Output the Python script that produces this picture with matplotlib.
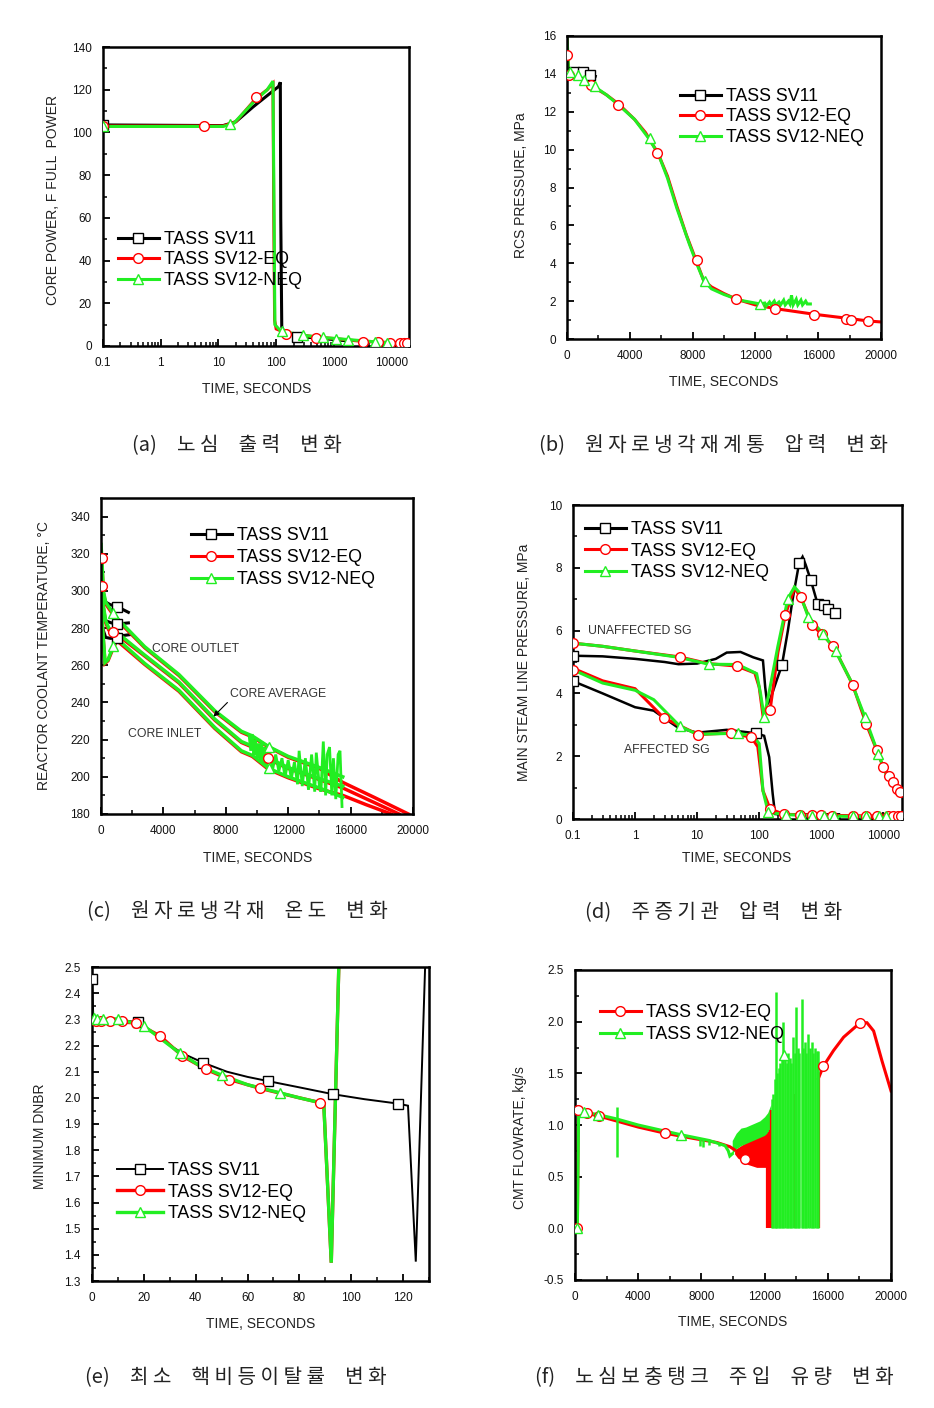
import numpy as np
import matplotlib
matplotlib.use('Agg')
import matplotlib.pyplot as plt
from matplotlib.lines import Line2D
from matplotlib.ticker import MultipleLocator, FixedLocator, LogLocator, NullFormatter, FormatStrFormatter

plt.rcParams['font.family'] = ['Liberation Sans', 'DejaVu Sans']

W, H = 934, 1408
BLACK, RED, GREEN = '#000000', '#ff0000', '#22ee22'
LBL = ['TASS SV11', 'TASS SV12-EQ', 'TASS SV12-NEQ']

# ---------------- (a) core power, log time
a_sv11_t = [0.1, 12, 20, 40, 80, 110, 118, 120, 125, 135, 229, 500, 1000, 1900]
a_sv11_p = [103.5, 103.2, 105, 112, 118.5, 121.5, 123.5, 60, 9, 7, 4.4, 3.8, 3.0, 2.3]
a_sv11_mk_t = [0.1, 229]
a_sv11_mk_p = [103.5, 4.4]
a_eq_t = [0.1, 12, 20, 45, 70, 88, 91, 94, 100, 150, 300, 500, 1000, 3000, 6000, 10000, 20000]
a_eq_p = [103, 103, 105, 116, 120, 123, 60, 12, 8, 6, 5, 4.2, 3.5, 2.2, 1.8, 1.6, 1.4]
a_eq_mk_t = [0.1, 5.6, 45, 148, 490, 3200, 5700, 9300, 14000, 16500, 18500]
a_eq_mk_p = [103, 102.8, 116.5, 5.5, 3.9, 1.9, 1.7, 1.5, 1.4, 1.4, 1.4]
a_neq_t = [0.1, 12, 18, 40, 70, 88, 92, 95, 120, 300, 600, 1100, 1800, 5000, 8000, 12000]
a_neq_p = [102.8, 102.8, 104, 114, 120, 124, 60, 10, 7, 5, 4, 3.5, 3, 2, 1.6, 1.4]
a_neq_mk_t = [0.1, 16, 125, 296, 660, 1100, 1780, 5100, 8200]
a_neq_mk_p = [102.8, 104, 7, 5, 4, 3.2, 3, 2, 1.6]

# ---------------- (b) RCS pressure
b_sv11_t = [0, 50, 120, 300, 600, 1000, 1490, 1800]
b_sv11_p = [15.2, 14.6, 14.15, 14.1, 14.1, 14.1, 13.95, 13.87]
b_sv11_mk_t = [470, 1000, 1490]
b_sv11_mk_p = [14.1, 14.1, 13.95]
b_eq_t = [0, 30, 100, 300, 800, 1500, 2500, 3300, 4300, 5000, 5800, 6400, 7000, 7600, 8200, 8700,
          9200, 10000, 10800, 12000, 13300, 15800, 17800, 19200, 20000]
b_eq_p = [15.8, 15.0, 13.9, 13.9, 13.8, 13.4, 12.9, 12.4, 11.6, 10.9, 9.8, 8.6, 7.0, 5.5, 4.2, 3.1,
          2.75, 2.4, 2.1, 1.8, 1.6, 1.3, 1.1, 0.95, 0.9]
b_eq_mk_t = [0, 100, 1500, 3230, 5740, 8250, 10770, 13230, 15740, 17800, 18100, 19200]
b_eq_mk_p = [15.0, 13.96, 13.4, 12.35, 9.8, 4.17, 2.1, 1.57, 1.27, 1.04, 1.0, 0.95]
b_neq_t = [0, 40, 100, 300, 600, 1100, 1800, 2500, 3300, 4300, 5200, 5800, 6400, 7000, 7800, 8300,
           8700, 9200, 10000, 11000, 12300]
b_neq_p = [15.9, 15.3, 14.1, 14.05, 14.0, 13.7, 13.3, 12.9, 12.35, 11.6, 10.6, 9.8, 8.5, 6.9, 5.0, 3.9,
           3.1, 2.65, 2.35, 2.05, 1.85]
b_neq_mk_t = [210, 680, 1060, 1770, 5260, 8770, 12300]
b_neq_mk_p = [14.1, 13.93, 13.66, 13.35, 10.64, 3.06, 1.83]
b_osc_t = [12300, 12600, 12700, 12900, 13000, 13200, 13300, 13500, 13600, 13800, 13900, 14100, 14200,
           14300, 14400, 14600, 14700, 14900, 15000, 15200, 15300, 15500]
b_osc_p = [1.85, 1.9, 1.75, 1.95, 1.8, 2.0, 1.8, 1.95, 1.8, 2.05, 1.8, 2.0, 1.85, 2.3, 1.8, 2.1, 1.8,
           2.05, 1.8, 2.0, 1.85, 1.85]

# ---------------- (c) coolant temperatures (outlet / average / inlet)
c_sv11_out_t = [0, 100, 300, 577, 1006, 1400, 1755]
c_sv11_out_T = [305, 298, 294, 292.7, 291.5, 290, 288.5]
c_sv11_avg_t = [0, 100, 300, 600, 1006, 1400, 1755]
c_sv11_avg_T = [298, 288, 284, 283, 282, 282.5, 282.8]
c_sv11_in_t = [0, 100, 300, 600, 1006, 1400, 1860]
c_sv11_in_T = [292, 280, 275, 274.5, 274.7, 276, 276.5]
c_sv11_mk_t = [1006, 1006, 1006]
c_sv11_mk_T = [291.5, 282, 274.7]

c_eq_out_t = [0, 50, 150, 300, 470, 800, 1113, 2800, 5000, 7300, 9000, 9700, 10740, 12000, 14000, 15500, 17500, 19700]
c_eq_out_T = [322, 316, 299, 293, 291, 287, 283.8, 269.5, 254.5, 235, 224, 221.5, 216, 210.5, 204.5, 197, 189, 180]
c_eq_avg_t = [0, 40, 85, 150, 300, 500, 770, 1113, 2800, 5000, 7300, 9000, 9700, 10740, 12000, 14000, 15500, 17300, 19100]
c_eq_avg_T = [317.9, 309, 302.6, 291, 283, 279, 277.8, 276, 265, 250.5, 230.5, 218.5, 216, 209.5, 204.5, 198.5, 194, 187, 180]
c_eq_in_t = [0, 40, 120, 257, 450, 790, 1006, 1200, 2800, 5000, 7300, 9000, 9700, 10740, 12000, 14000, 15500, 17000, 18600]
c_eq_in_T = [298, 289, 277, 261, 262.5, 269.5, 273, 272, 260.5, 246, 226, 213.5, 211, 204, 199.5, 193.5, 190, 185, 180]
c_eq_mk_t = [85, 85, 770, 10700]
c_eq_mk_T = [317.9, 302.6, 278, 210]

c_neq_out_t = [0, 50, 150, 300, 470, 800, 1113, 2800, 5000, 7300, 9000, 9700, 10740, 12000, 14000, 15500]
c_neq_out_T = [325, 318, 300, 294, 291.8, 288, 284.6, 270, 255, 235.5, 224.5, 222, 216.3, 211, 205, 200]
c_neq_avg_t = [0, 40, 85, 150, 300, 500, 800, 1113, 2800, 5000, 7300, 9000, 9700, 10740, 12000, 14000, 15500]
c_neq_avg_T = [318, 310, 303, 292, 284, 280, 278, 277, 265.5, 251, 231, 219, 216.5, 210, 205, 199, 195]
c_neq_in_t = [0, 40, 120, 257, 450, 790, 1006, 1200, 2800, 5000, 7300, 9000, 9700, 10740, 12000, 14000, 15500]
c_neq_in_T = [300, 290, 278, 261.5, 263, 270.2, 273.8, 273, 261, 246.5, 226.5, 214, 211.5, 204.6, 200, 194, 189]
c_neq_mk_t = [800, 800, 10740, 10740]
c_neq_mk_T = [288, 270.2, 216.3, 204.6]
c_osc_t = [9500, 9600, 9700, 9800, 9900, 10000, 10100, 10200, 10300, 10400, 10500, 10600, 10800, 11000,
           11200, 11400, 11600, 11800, 12000, 12200, 12400, 12600, 12700, 12900, 13100, 13300, 13500,
           13700, 13800, 14000, 14100, 14250, 14400, 14500, 14650, 14800, 14900, 15050, 15200, 15320, 15450]
c_osc_T = [222, 214, 223, 212, 220, 210, 218, 208, 219, 207, 216, 206, 214, 204, 212, 203, 210, 200,
           209, 199, 208, 196, 214, 195, 210, 193, 212, 192, 213, 195, 192, 219, 190, 212, 216, 190,
           210, 188, 212, 214, 184]

# ---------------- (d) main steam line pressure, log time
d_sv11_u_t = [0.1, 0.3, 1, 3, 5, 10, 20, 30, 50, 80, 115, 125, 135, 150, 190, 232, 290, 344, 441,
              500, 560, 680, 870, 1100, 1300, 1650]
d_sv11_u_p = [5.2, 5.18, 5.1, 5.0, 4.93, 4.95, 5.1, 5.3, 5.32, 5.15, 5.05, 4.2, 3.65, 3.8, 4.4, 4.89,
              6.0, 6.97, 8.16, 8.35, 8.1, 7.6, 6.86, 6.8, 6.7, 6.56]
d_sv11_a_t = [0.1, 0.3, 1, 2, 5, 10, 30, 90, 120, 145, 165, 180, 200, 500, 1930]
d_sv11_a_p = [4.39, 4.0, 3.56, 3.45, 2.9, 2.75, 2.84, 2.73, 2.65, 1.97, 0.8, 0.16, 0.15, 0.15, 0.15]
d_sv11_mk_t = [0.1, 0.1, 90, 232, 441, 680, 870, 1100, 1300, 1650]
d_sv11_mk_p = [5.2, 4.39, 2.73, 4.89, 8.16, 7.6, 6.86, 6.8, 6.7, 6.56]

d_eq_u_t = [0.1, 0.3, 1, 5.3, 15, 43.5, 85, 100, 115, 150, 200, 263, 370, 468, 720, 1030, 1570, 3200,
            5300, 7800, 10000, 12300, 14500, 16700, 18000, 20000]
d_eq_u_p = [5.6, 5.5, 5.35, 5.16, 4.95, 4.87, 4.65, 4.2, 3.3, 3.48, 5.3, 6.5, 7.35, 7.07, 6.17, 5.88,
            5.5, 4.28, 3.03, 2.2, 1.65, 1.38, 1.17, 0.96, 0.85, 0.8]
d_eq_a_t = [0.1, 0.3, 1, 2.9, 10.3, 35, 75, 95, 115, 150, 250, 1000, 5000, 20000]
d_eq_a_p = [4.8, 4.4, 4.15, 3.22, 2.69, 2.74, 2.6, 2.3, 0.9, 0.32, 0.15, 0.12, 0.1, 0.1]
d_eq_mk_t = [0.1, 5.3, 43.5, 150, 263, 468, 720, 1030, 1570, 3200, 5300, 7800, 10000, 12300, 14500,
             16700, 18500, 0.1, 2.9, 10.3, 35, 75, 150, 250, 460, 700, 1000, 1500, 3200, 5300, 8000,
             12000, 14500, 17000, 19500]
d_eq_mk_p = [5.6, 5.16, 4.87, 3.48, 6.5, 7.07, 6.17, 5.88, 5.5, 4.28, 3.03, 2.2, 1.65, 1.38, 1.17,
             0.96, 0.85, 4.73, 3.22, 2.69, 2.74, 2.6, 0.32, 0.15, 0.13, 0.12, 0.12, 0.11, 0.1, 0.1, 0.1,
             0.1, 0.1, 0.1, 0.1]
d_neq_u_t = [0.1, 0.3, 1, 5, 15.4, 45, 91, 105, 120, 150, 200, 290, 370, 450, 615, 1070, 1700, 3000,
             5070, 8300, 11000]
d_neq_u_p = [5.6, 5.5, 5.35, 5.15, 4.93, 4.92, 4.63, 4.0, 3.24, 4.2, 5.5, 7.02, 7.39, 7.2, 6.44, 5.9,
             5.35, 4.4, 3.24, 2.07, 1.44]
d_neq_a_t = [0.1, 0.3, 1, 2, 5.3, 10, 45, 80, 100, 115, 140, 270, 500, 1000, 3300, 11000]
d_neq_a_p = [4.75, 4.33, 4.1, 3.8, 2.95, 2.7, 2.73, 2.65, 2.4, 0.9, 0.21, 0.14, 0.12, 0.1, 0.08, 0.08]
d_neq_mk_t = [15.4, 120, 290, 615, 1070, 1700, 5070, 8300, 5.3, 45, 140, 270, 480, 700, 1100, 1600,
              3300, 5300, 8500, 11000]
d_neq_mk_p = [4.93, 3.24, 7.02, 6.44, 5.9, 5.35, 3.24, 2.07, 2.95, 2.73, 0.21, 0.14, 0.12, 0.11, 0.1,
              0.1, 0.08, 0.08, 0.08, 0.08]

# ---------------- (e) minimum DNBR
e_sv11_t = [0, 0.5, 5, 10, 17.8, 25, 30, 36, 42.7, 52, 60, 67.9, 80, 92.9, 105, 118, 121.9, 124.9, 128.5]
e_sv11_v = [2.455, 2.31, 2.30, 2.30, 2.288, 2.24, 2.2, 2.165, 2.135, 2.1, 2.08, 2.064, 2.04, 2.014,
            1.995, 1.978, 1.97, 1.374, 2.5]
e_sv11_mk_t = [0, 17.8, 42.7, 67.9, 92.9, 118]
e_sv11_mk_v = [2.455, 2.288, 2.135, 2.064, 2.014, 1.978]
e_eq_t = [0, 2, 7, 11, 16.9, 26.2, 34.8, 44, 53, 64.9, 80, 87.9, 89.4, 92.3, 95.2]
e_eq_v = [2.32, 2.295, 2.295, 2.29, 2.286, 2.237, 2.16, 2.109, 2.07, 2.036, 2.0, 1.982, 1.978, 1.37, 2.5]
e_eq_mk_t = [1.7, 3.6, 6.8, 11.4, 16.9, 26.2, 34.8, 44, 53, 64.9, 87.9]
e_eq_mk_v = [2.295, 2.295, 2.295, 2.292, 2.286, 2.237, 2.16, 2.109, 2.07, 2.036, 1.982]
e_neq_t = [0, 0.5, 2, 4, 10, 20, 34, 42, 50, 60, 72.6, 80, 89.4, 92.3, 95.2]
e_neq_v = [2.33, 2.31, 2.30, 2.30, 2.302, 2.275, 2.17, 2.12, 2.087, 2.05, 2.019, 2.0, 1.978, 1.37, 2.5]
e_neq_mk_t = [0.6, 1.9, 4.3, 10, 20, 34, 50, 72.6]
e_neq_mk_v = [2.305, 2.30, 2.30, 2.302, 2.275, 2.17, 2.087, 2.019]

# ---------------- (f) CMT flowrate
f_eq_t = [0, 150, 210, 740, 1545, 2600, 4000, 5714, 7500, 9000, 9800, 10100]
f_eq_v = [0.0, 0.0, 1.146, 1.114, 1.085, 1.04, 0.98, 0.92, 0.87, 0.83, 0.79, 0.76]
f_eq_band_t = [10100, 10300, 10500, 10700, 10900, 11100, 11300, 11500, 11700, 11900, 12100, 12300]
f_eq_band_hi = [0.76, 0.78, 0.80, 0.82, 0.84, 0.85, 0.87, 0.88, 0.90, 0.91, 0.93, 0.95]
f_eq_band_lo = [0.72, 0.68, 0.66, 0.64, 0.62, 0.61, 0.60, 0.59, 0.59, 0.59, 0.59, 0.59]
f_eq_drop_t = [12180, 12260, 12340, 12400, 13950, 15450]
f_eq_drop_hi = [0.9, 0.93, 0.95, 1.15, 1.3, 1.5]
f_eq_tail_t = [15400, 15725, 16360, 17000, 18050, 18480, 18900, 19430, 20000]
f_eq_tail_v = [1.45, 1.57, 1.72, 1.85, 1.99, 1.99, 1.91, 1.62, 1.33]
f_eq_mk_t = [106, 210, 740, 1545, 5714, 10750, 15725, 18050]
f_eq_mk_v = [0.0, 1.146, 1.114, 1.085, 0.92, 0.674, 1.57, 1.99]

f_neq_t = [0, 150, 230, 590, 1480, 2600, 4000, 6730, 8500, 9500, 9700, 9800, 9950]
f_neq_v = [0.0, 0.0, 1.15, 1.125, 1.10, 1.06, 1.0, 0.905, 0.85, 0.80, 0.75, 0.70, 0.72]
f_neq_dip_t = [2640, 7900, 8100, 8500, 9100]
f_neq_dip_lo = [0.69, 0.80, 0.79, 0.81, 0.80]
f_neq_dip_hi = [1.17, 0.86, 0.86, 0.85, 0.82]
f_neq_band_t = [9950, 10200, 10500, 10800, 11100, 11400, 11700, 12000, 12200, 12400]
f_neq_band_lo = [0.72, 0.77, 0.80, 0.82, 0.84, 0.86, 0.88, 0.90, 0.93, 0.95]
f_neq_band_hi = [0.85, 0.92, 0.97, 0.98, 1.00, 1.02, 1.04, 1.08, 1.12, 1.20]
f_neq_sp_t = [12450, 12550, 12650, 12720, 12800, 12900, 13000, 13100, 13190, 13300, 13400, 13500, 13600,
              13700, 13800, 13900, 13990, 14100, 14200, 14350, 14450, 14550, 14650, 14770, 14850, 14980,
              15080, 15200, 15300, 15400]
f_neq_sp_v = [1.25, 1.3, 1.45, 2.29, 1.5, 1.55, 1.6, 1.65, 2.0, 1.68, 1.6, 1.7, 1.65, 1.6, 1.85, 1.7,
              2.14, 1.75, 1.7, 2.22, 1.75, 1.8, 1.7, 1.88, 1.75, 1.8, 1.7, 1.75, 1.72, 1.72]
f_neq_mk_t = [100, 590, 1480, 6730, 13230]
f_neq_mk_v = [0.0, 1.125, 1.10, 0.905, 1.68]

captions = [('(a)', ['노심', '출력', '변화']),
            ('(b)', ['원자로냉각재계통', '압력', '변화']),
            ('(c)', ['원자로냉각재', '온도', '변화']),
            ('(d)', ['주증기관', '압력', '변화']),
            ('(e)', ['최소', '핵비등이탈률', '변화']),
            ('(f)', ['노심보충탱크', '주입', '유량', '변화'])]


def rect(l, t, r, b):
    return [l / W, 1 - b / H, (r - l) / W, (b - t) / H]


def style(ax, xlabel, ylabel, xlab, ylab):
    for s in ax.spines.values():
        s.set_linewidth(1.8)
    ax.tick_params(which='both', direction='in', top=False, right=False, labelsize=8.5,
                   labelcolor='#111')
    ax.tick_params(which='major', length=5, width=1.3, pad=8)
    ax.tick_params(which='minor', length=3, width=1.1)
    ax.set_xlabel(xlabel, fontsize=10, color='#222')
    ax.set_ylabel(ylabel, fontsize=10, color='#222')
    ax.xaxis.set_label_coords(*xlab)
    ax.yaxis.set_label_coords(*ylab)
    ax.xaxis.label.set_va('center')
    ax.yaxis.label.set_va('center')


def logx(ax):
    ax.set_xscale('log')
    ax.set_xlim(0.1, 20000)
    ax.xaxis.set_major_locator(FixedLocator([0.1, 1, 10, 100, 1000, 10000]))
    ax.set_xticklabels(['0.1', '1', '10', '100', '1000', '10000'])
    ax.xaxis.set_minor_locator(LogLocator(base=10, subs=np.arange(2, 10)))
    ax.xaxis.set_minor_formatter(NullFormatter())


def line(ax, t, v, c, lw=2.2):
    ax.plot(t, v, color=c, lw=lw, solid_joinstyle='miter')


def marks(ax, t, v, c, m):
    ax.plot(t, v, ls='none', marker=m, ms=7, mfc='white', mec=c, mew=1, zorder=3)


def legend(ax, which, anchor, lws, spacing=0.24, hl=2.3):
    cols = [BLACK, RED, GREEN]
    mks = ['s', 'o', '^']
    hs = [Line2D([], [], color=cols[i], lw=lws[k], marker=mks[i], ms=7, mfc='white', mec=cols[i], mew=1)
          for k, i in enumerate(which)]
    ax.legend(hs, [LBL[i] for i in which], loc='upper left', bbox_to_anchor=anchor, frameon=False,
              fontsize=12.8, handlelength=hl, handletextpad=0.3, labelspacing=spacing,
              borderpad=0, borderaxespad=0)


fig = plt.figure(figsize=(W / 100, H / 100), dpi=100)

# (a)
ax = fig.add_axes(rect(103, 47, 409, 346))
line(ax, a_sv11_t, a_sv11_p, BLACK); marks(ax, a_sv11_mk_t, a_sv11_mk_p, BLACK, 's')
line(ax, a_eq_t, a_eq_p, RED); marks(ax, a_eq_mk_t, a_eq_mk_p, RED, 'o')
line(ax, a_neq_t, a_neq_p, GREEN); marks(ax, a_neq_mk_t, a_neq_mk_p, GREEN, '^')
logx(ax)
ax.set_ylim(0, 140)
ax.yaxis.set_major_locator(MultipleLocator(20))
ax.yaxis.set_minor_locator(MultipleLocator(10))
style(ax, 'TIME, SECONDS', 'CORE POWER, F FULL  POWER', (0.503, -0.144), (-0.163, 0.488))
legend(ax, [0, 1, 2], (0.049, 0.385), [2.2, 2.2, 2.2], spacing=0.2)

# (b)
ax = fig.add_axes(rect(567, 36, 881, 339))
line(ax, b_sv11_t, b_sv11_p, BLACK); marks(ax, b_sv11_mk_t, b_sv11_mk_p, BLACK, 's')
line(ax, b_eq_t, b_eq_p, RED); marks(ax, b_eq_mk_t, b_eq_mk_p, RED, 'o')
line(ax, b_neq_t, b_neq_p, GREEN); line(ax, b_osc_t, b_osc_p, GREEN)
marks(ax, b_neq_mk_t, b_neq_mk_p, GREEN, '^')
ax.set_xlim(0, 20000)
ax.set_ylim(0, 16)
ax.xaxis.set_major_locator(MultipleLocator(4000))
ax.xaxis.set_minor_locator(MultipleLocator(2000))
ax.yaxis.set_major_locator(MultipleLocator(2))
ax.yaxis.set_minor_locator(MultipleLocator(1))
style(ax, 'TIME, SECONDS', 'RCS PRESSURE, MPa', (0.5, -0.142), (-0.146, 0.508))
legend(ax, [0, 1, 2], (0.36, 0.829), [2.2, 2.2, 2.2], spacing=0.2)

# (c)
ax = fig.add_axes(rect(101, 498, 413, 814))
for t, v in [(c_sv11_out_t, c_sv11_out_T), (c_sv11_avg_t, c_sv11_avg_T), (c_sv11_in_t, c_sv11_in_T)]:
    line(ax, t, v, BLACK)
marks(ax, c_sv11_mk_t, c_sv11_mk_T, BLACK, 's')
for t, v in [(c_eq_out_t, c_eq_out_T), (c_eq_avg_t, c_eq_avg_T), (c_eq_in_t, c_eq_in_T)]:
    line(ax, t, v, RED, 2.5)
marks(ax, c_eq_mk_t, c_eq_mk_T, RED, 'o')
for t, v in [(c_neq_out_t, c_neq_out_T), (c_neq_avg_t, c_neq_avg_T), (c_neq_in_t, c_neq_in_T)]:
    line(ax, t, v, GREEN, 2.5)
line(ax, c_osc_t, c_osc_T, GREEN, 2.0)
marks(ax, c_neq_mk_t, c_neq_mk_T, GREEN, '^')
ax.set_xlim(0, 20000)
ax.set_ylim(180, 350)
ax.xaxis.set_major_locator(MultipleLocator(4000))
ax.xaxis.set_minor_locator(MultipleLocator(2000))
ax.yaxis.set_major_locator(FixedLocator(np.arange(180, 341, 20)))
ax.yaxis.set_minor_locator(FixedLocator(np.arange(190, 350, 20)))
ax.text(3300, 269, 'CORE OUTLET', fontsize=8.8, color='#333', va='center')
ax.text(1752, 223, 'CORE INLET', fontsize=8.8, color='#333', va='center')
ax.annotate('CORE AVERAGE', xy=(7208, 232.4), xytext=(8280, 244.7), fontsize=8.8, color='#333',
            va='center', arrowprops=dict(arrowstyle='-|>', color='black', lw=0.8, mutation_scale=8,
                                         shrinkA=0, shrinkB=0, relpos=(0, 0)))
style(ax, 'TIME, SECONDS', 'REACTOR COOLANT TEMPERATURE, °C', (0.503, -0.139), (-0.183, 0.5))
legend(ax, [0, 1, 2], (0.288, 0.908), [2.2, 2.2, 2.2], spacing=0.28)

# (d)
ax = fig.add_axes(rect(573, 505, 902, 819))
line(ax, d_sv11_u_t, d_sv11_u_p, BLACK, 1.8); line(ax, d_sv11_a_t, d_sv11_a_p, BLACK, 1.8)
marks(ax, d_sv11_mk_t, d_sv11_mk_p, BLACK, 's')
line(ax, d_eq_u_t, d_eq_u_p, RED); line(ax, d_eq_a_t, d_eq_a_p, RED)
marks(ax, d_eq_mk_t, d_eq_mk_p, RED, 'o')
line(ax, d_neq_u_t, d_neq_u_p, GREEN); line(ax, d_neq_a_t, d_neq_a_p, GREEN)
marks(ax, d_neq_mk_t, d_neq_mk_p, GREEN, '^')
logx(ax)
ax.set_ylim(0, 10)
ax.yaxis.set_major_locator(MultipleLocator(2))
ax.yaxis.set_minor_locator(MultipleLocator(1))
ax.text(0.1 * 10 ** ((588 - 573) / 62.2), 5.98, 'UNAFFECTED SG', fontsize=8.8, color='#333', va='center')
ax.text(0.1 * 10 ** ((624 - 573) / 62.2), 2.2, 'AFFECTED SG', fontsize=8.8, color='#333', va='center')
style(ax, 'TIME, SECONDS', 'MAIN STEAM LINE PRESSURE, MPa', (0.498, -0.124), (-0.149, 0.5))
legend(ax, [0, 1, 2], (0.036, 0.949), [2.2, 2.2, 2.2], spacing=0.26)

# (e)
ax = fig.add_axes(rect(92, 967, 429, 1281))
line(ax, e_sv11_t, e_sv11_v, BLACK, 1.4); marks(ax, e_sv11_mk_t, e_sv11_mk_v, BLACK, 's')
line(ax, e_eq_t, e_eq_v, RED, 2.4); marks(ax, e_eq_mk_t, e_eq_mk_v, RED, 'o')
line(ax, e_neq_t, e_neq_v, GREEN, 2.4); marks(ax, e_neq_mk_t, e_neq_mk_v, GREEN, '^')
ax.set_xlim(0, 130)
ax.set_ylim(1.3, 2.5)
ax.xaxis.set_major_locator(MultipleLocator(20))
ax.xaxis.set_minor_locator(MultipleLocator(10))
ax.yaxis.set_major_locator(MultipleLocator(0.1))
ax.yaxis.set_minor_locator(MultipleLocator(0.05))
ax.yaxis.set_major_formatter(FormatStrFormatter('%.1f'))
style(ax, 'TIME, SECONDS', 'MINIMUM DNBR', (0.501, -0.137), (-0.154, 0.462))
legend(ax, [0, 1, 2], (0.074, 0.379), [1.4, 2.4, 2.4], spacing=0.26, hl=2.6)

# (f)
ax = fig.add_axes(rect(575, 970, 891, 1280))
line(ax, f_eq_t, f_eq_v, RED)
ax.fill_between(f_eq_band_t, f_eq_band_lo, f_eq_band_hi, color=RED, lw=0)
ax.vlines(f_eq_drop_t, 0, f_eq_drop_hi, color=RED, lw=1.6)
line(ax, f_eq_tail_t, f_eq_tail_v, RED)
line(ax, f_neq_t, f_neq_v, GREEN)
ax.vlines(f_neq_dip_t, f_neq_dip_lo, f_neq_dip_hi, color=GREEN, lw=1.8)
ax.fill_between(f_neq_band_t, f_neq_band_lo, f_neq_band_hi, color=GREEN, lw=0)
ax.vlines(f_neq_sp_t, 0, f_neq_sp_v, color=GREEN, lw=1.8)
marks(ax, f_eq_mk_t, f_eq_mk_v, RED, 'o')
marks(ax, f_neq_mk_t, f_neq_mk_v, GREEN, '^')
ax.set_xlim(0, 20000)
ax.set_ylim(-0.5, 2.5)
ax.xaxis.set_major_locator(MultipleLocator(4000))
ax.xaxis.set_minor_locator(MultipleLocator(2000))
ax.yaxis.set_major_locator(MultipleLocator(0.5))
ax.yaxis.set_minor_locator(MultipleLocator(0.25))
ax.yaxis.set_major_formatter(FormatStrFormatter('%.1f'))
style(ax, 'TIME, SECONDS', 'CMT FLOWRATE, kg/s', (0.5, -0.135), (-0.174, 0.458))
legend(ax, [1, 2], (0.079, 0.89), [2.2, 2.2], spacing=0.26)

# captions
cap_pos = [(237, 445), (713, 445), (237, 912), (714, 912), (236, 1378), (714, 1378)]
for (tag, words), (x, y) in zip(captions, cap_pos):
    s = tag + '\u3000' + '\u3000'.join(' '.join(w) for w in words)
    fig.text(x / W, 1 - y / H, s, ha='center', va='center', fontsize=14.5, color='#222',
             family=['Noto Sans CJK KR', 'DejaVu Sans'])

fig.savefig('out.png', dpi=100)
